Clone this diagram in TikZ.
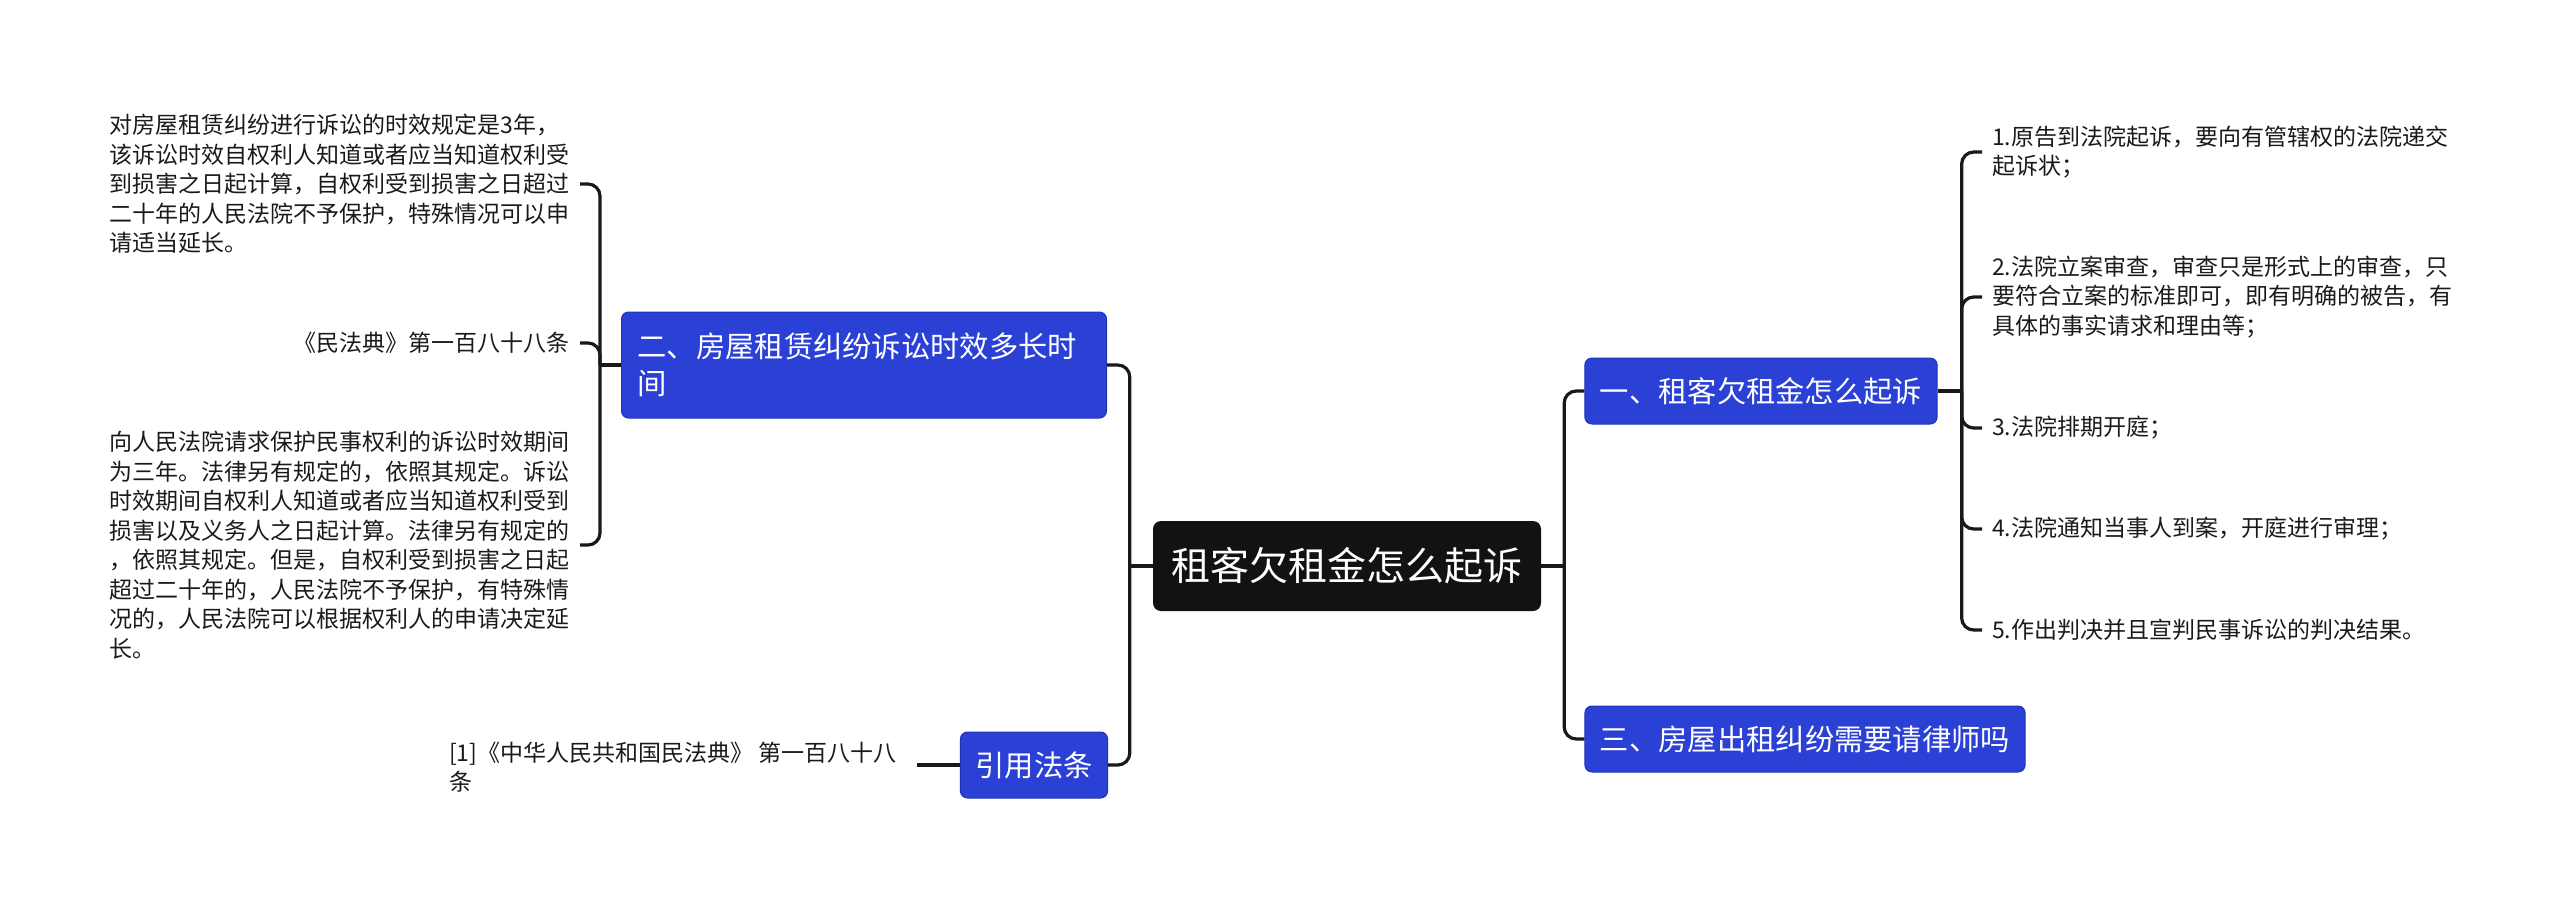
\documentclass[tikz,border=0pt]{standalone}
\usepackage{fontspec}
\setmainfont{Noto Sans CJK SC}
\definecolor{topicblue}{HTML}{2B41D6}
\definecolor{topicedge}{HTML}{1F33B8}
\definecolor{rootblack}{HTML}{121212}
\definecolor{leaftext}{HTML}{1A1A1A}
\tikzset{
    root/.style={rectangle, rounded corners=8pt, fill=rootblack, text=white, minimum width=388pt, minimum height=90pt, font=\fontsize{39}{46}\selectfont},
    topic/.style={rectangle, rounded corners=7pt, fill=topicblue, draw=topicedge, line width=1pt, text=white, minimum height=66pt, inner xsep=15pt, font=\fontsize{29.3}{37}\selectfont},
    leaf/.style={inner sep=0pt, align=left, text=leaftext, font=\fontsize{23}{29.5}\selectfont},
    link/.style={line width=3.2pt, rounded corners=12pt, draw=black!90},
}

\begin{document}
\begin{tikzpicture}[x=1pt, y=-1pt]
\useasboundingbox (0,0) rectangle (2560,905);

\node[root] (root) at (1347,566) {租客欠租金怎么起诉};

% ── Left side ──
\node[topic, minimum width=485pt, minimum height=106pt, text width=453pt, align=left, inner xsep=16pt] (n2) at (864,365) {二、房屋租赁纠纷诉讼时效多长时\\间};
\node[topic] (ref) at (1034,765) {引用法条};

\node[leaf, anchor=east] (t1) at (570,184) {对房屋租赁纠纷进行诉讼的时效规定是3年，\\该诉讼时效自权利人知道或者应当知道权利受\\到损害之日起计算，自权利受到损害之日超过\\二十年的人民法院不予保护，特殊情况可以申\\请适当延长。};
\node[leaf, anchor=east] (t2) at (570,343) {《民法典》第一百八十八条};
\node[leaf, anchor=east] (t3) at (570,545) {向人民法院请求保护民事权利的诉讼时效期间\\为三年。法律另有规定的，依照其规定。诉讼\\时效期间自权利人知道或者应当知道权利受到\\损害以及义务人之日起计算。法律另有规定的\\，依照其规定。但是，自权利受到损害之日起\\超过二十年的，人民法院不予保护，有特殊情\\况的，人民法院可以根据权利人的申请决定延\\长。};
\node[leaf, anchor=west] (cite) at (449,767) {[1]《中华人民共和国民法典》 第一百八十八\\条};

% ── Right side ──
\node[topic] (n1) at (1761,391) {一、租客欠租金怎么起诉};
\node[topic] (n3) at (1805,739) {三、房屋出租纠纷需要请律师吗};

\node[leaf, anchor=west] (c1) at (1992,152) {1.原告到法院起诉，要向有管辖权的法院递交\\起诉状；};
\node[leaf, anchor=west] (c2) at (1992,297) {2.法院立案审查，审查只是形式上的审查，只\\要符合立案的标准即可，即有明确的被告，有\\具体的事实请求和理由等；};
\node[leaf, anchor=west] (c3) at (1992,428) {3.法院排期开庭；};
\node[leaf, anchor=west] (c4) at (1992,529) {4.法院通知当事人到案，开庭进行审理；};
\node[leaf, anchor=west] (c5) at (1992,630) {5.作出判决并且宣判民事诉讼的判决结果。};

% ── Connectors ──
\coordinate (ljoin) at ([xshift=-23pt]root.west);
\coordinate (rjoin) at ([xshift=23pt]root.east);
\coordinate (b2) at ([xshift=-21pt]n2.west);
\coordinate (b1) at ([xshift=24pt]n1.east);

\draw[link] (root.west) -- (ljoin);
\draw[link] (n2.east) -| (ljoin) |- (ref.east);
\draw[link] (root.east) -- (rjoin);
\draw[link] (n1.west) -| (rjoin) |- (n3.west);

\draw[link] (n2.west) -- (b2);
\draw[link] ([xshift=10pt]t1.east) -| (b2) |- ([xshift=10pt]t3.east);
\draw[link] ([xshift=10pt]t2.east) -| (b2);
\draw[link] (ref.west) -- ([xshift=20pt]cite.east |- ref.west);

\draw[link] (n1.east) -- (b1);
\draw[link] ([xshift=-10pt]c1.west) -| (b1) |- ([xshift=-10pt]c5.west);
\draw[link] ([xshift=-10pt]c2.west) -| (b1);
\draw[link] ([xshift=-10pt]c3.west) -| (b1);
\draw[link] ([xshift=-10pt]c4.west) -| (b1);

\end{tikzpicture}
\end{document}
